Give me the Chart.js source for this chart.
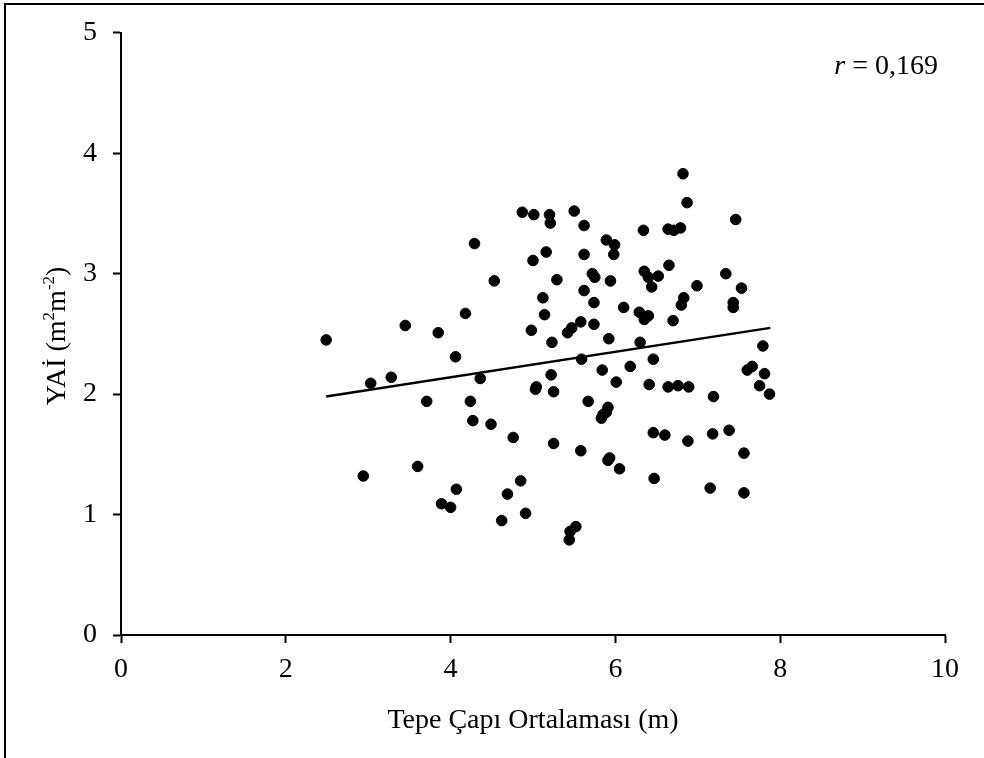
<!DOCTYPE html>
<html>
<head>
<meta charset="utf-8">
<script src="https://cdn.jsdelivr.net/npm/chart.js@4"></script>
<style>
  html, body { margin: 0; padding: 0; background: #fff; }
  #wrap { width: 984px; height: 758px; }
</style>
</head>
<body>
<div id="wrap"><canvas id="chart" width="984" height="758"></canvas></div>
<script>
// scatter values
const crownDiam = [
  2.49, 2.94, 3.03, 3.28, 3.45, 3.60, 3.71, 3.85, 3.89, 4.00,
  4.06, 4.07, 4.18, 4.24, 4.27, 4.29, 4.36, 4.49, 4.53, 4.62,
  4.69, 4.76, 4.85, 4.87, 4.91, 4.98, 5.00, 5.01, 5.03, 5.04,
  5.12, 5.14, 5.16, 5.20, 5.21, 5.22, 5.23, 5.25, 5.25, 5.29,
  5.42, 5.44, 5.45, 5.47, 5.50, 5.52, 5.58, 5.58, 5.59, 5.62,
  5.62, 5.62, 5.67, 5.72, 5.74, 5.74, 5.75, 5.83, 5.85, 5.84,
  5.89, 5.89, 5.91, 5.91, 5.92, 5.93, 5.94, 5.98, 5.99, 6.01,
  6.05, 6.10, 6.18, 6.29, 6.30, 6.34, 6.35, 6.35, 6.40, 6.40,
  6.41, 6.44, 6.46, 6.46, 6.47, 6.52, 6.60, 6.64, 6.65, 6.64,
  6.70, 6.71, 6.76, 6.79, 6.80, 6.82, 6.83, 6.87, 6.88, 6.89,
  6.99, 7.15, 7.18, 7.19, 7.34, 7.38, 7.43, 7.43, 7.46, 7.53,
  7.56, 7.56, 7.60, 7.66, 7.75, 7.79, 7.81, 7.87
];
const laiVals = [
  2.45, 1.32, 2.09, 2.14, 2.57, 1.40, 1.94, 2.51, 1.09, 1.06,
  2.31, 1.21, 2.67, 1.94, 1.78, 3.25, 2.13, 1.75, 2.94, 0.95,
  1.17, 1.64, 1.28, 3.51, 1.01, 2.53, 3.11, 3.49, 2.04, 2.06,
  2.80, 2.66, 3.18, 3.49, 3.42, 2.16, 2.43, 2.02, 1.59, 2.95,
  2.51, 0.79, 0.86, 2.55, 3.52, 0.90, 2.60, 1.53, 2.29, 3.40,
  3.16, 2.86, 1.94, 3.00, 2.76, 2.58, 2.97, 1.80, 1.83, 2.20,
  3.28, 1.85, 1.89, 1.45, 2.46, 1.47, 2.94, 3.16, 3.24, 2.10,
  1.38, 2.72, 2.23, 2.68, 2.43, 3.36, 3.02, 2.62, 2.97, 2.65,
  2.08, 2.89, 2.29, 1.68, 1.30, 2.98, 1.66, 3.37, 3.07, 2.06,
  2.61, 3.36, 2.07, 3.38, 2.74, 3.83, 2.80, 3.59, 1.61, 2.06,
  2.90, 1.22, 1.67, 1.98, 3.00, 1.70, 2.76, 2.72, 3.45, 2.88,
  1.51, 1.18, 2.20, 2.23, 2.07, 2.40, 2.17, 2.00
];

// trend line ends
const trendX = [2.49, 7.88];
const trendY = [1.98, 2.55];

const xTicks = [0, 2, 4, 6, 8, 10];
const yTicks = [0, 1, 2, 3, 4, 5];

const rText = "0,169";
const xTitle = "Tepe Çapı Ortalaması (m)";

const FONT = "'Liberation Serif', 'Times New Roman', serif";

// frame, y title with superscripts, r label
const extras = {
  id: "extras",
  afterDraw(chart) {
    const ctx = chart.ctx;
    const area = chart.chartArea;
    ctx.save();

    ctx.strokeStyle = "#000";
    ctx.lineWidth = 2;
    ctx.strokeRect(5, 4, 1000, 800);

    // y title
    ctx.translate(58, (area.top + area.bottom) / 2 + 2);
    ctx.rotate(-Math.PI / 2);
    const parts = [
      { t: "YAİ (m", sup: false },
      { t: "2", sup: true },
      { t: "m", sup: false },
      { t: "-2", sup: true },
      { t: ")", sup: false }
    ];
    let total = 0;
    parts.forEach(p => {
      ctx.font = (p.sup ? "17px " : "28px ") + FONT;
      p.w = ctx.measureText(p.t).width;
      total += p.w;
    });
    let x = -total / 2;
    ctx.fillStyle = "#000";
    ctx.textBaseline = "middle";
    parts.forEach(p => {
      ctx.font = (p.sup ? "17px " : "28px ") + FONT;
      ctx.fillText(p.t, x, p.sup ? -8 : 0);
      x += p.w;
    });
    ctx.restore();

    // r label
    ctx.save();
    ctx.fillStyle = "#000";
    ctx.textBaseline = "middle";
    ctx.font = "italic 28px " + FONT;
    const rw = ctx.measureText("r").width;
    ctx.font = "28px " + FONT;
    const restTxt = " = " + rText;
    const restW = ctx.measureText(restTxt).width;
    const startX = 938 - rw - restW;
    ctx.font = "italic 28px " + FONT;
    ctx.fillText("r", startX, 67);
    ctx.font = "28px " + FONT;
    ctx.fillText(restTxt, startX + rw, 67);
    ctx.restore();
  }
};

const points = crownDiam.map((v, i) => ({ x: v, y: laiVals[i] }));
const trend = trendX.map((v, i) => ({ x: v, y: trendY[i] }));

new Chart(document.getElementById("chart"), {
  type: "scatter",
  data: {
    datasets: [
      {
        label: "YAİ",
        data: points,
        backgroundColor: "#000",
        borderColor: "#000",
        pointRadius: 5.3,
        pointHoverRadius: 5.3
      },
      {
        type: "line",
        label: "trend",
        data: trend,
        borderColor: "#000",
        borderWidth: 2.5,
        pointRadius: 0,
        fill: false
      }
    ]
  },
  options: {
    responsive: false,
    animation: false,
    events: [],
    layout: { padding: { left: 0, top: 19, right: 39, bottom: 0 } },
    plugins: {
      legend: { display: false },
      tooltip: { enabled: false }
    },
    scales: {
      x: {
        type: "linear",
        min: 0,
        max: 10,
        afterBuildTicks: s => { s.ticks = xTicks.map(v => ({ value: v })); },
        afterFit: s => { s.height = 123; },
        border: { display: true, color: "#000", width: 2 },
        grid: { drawOnChartArea: false, drawTicks: true, tickLength: 8, tickColor: "#000", tickWidth: 2 },
        ticks: { color: "#000", padding: 10, font: { family: FONT, size: 28 } },
        title: { display: true, text: xTitle, color: "#000", padding: { top: 0, bottom: 21 }, font: { family: FONT, size: 28 } }
      },
      y: {
        type: "linear",
        min: 0,
        max: 5,
        afterBuildTicks: s => { s.ticks = yTicks.map(v => ({ value: v })); },
        afterFit: s => { s.width = 121; },
        border: { display: true, color: "#000", width: 2 },
        grid: { drawOnChartArea: false, drawTicks: true, tickLength: 8, tickColor: "#000", tickWidth: 2 },
        ticks: { color: "#000", padding: 16, font: { family: FONT, size: 28 } }
      }
    }
  },
  plugins: [extras]
});
</script>
</body>
</html>
